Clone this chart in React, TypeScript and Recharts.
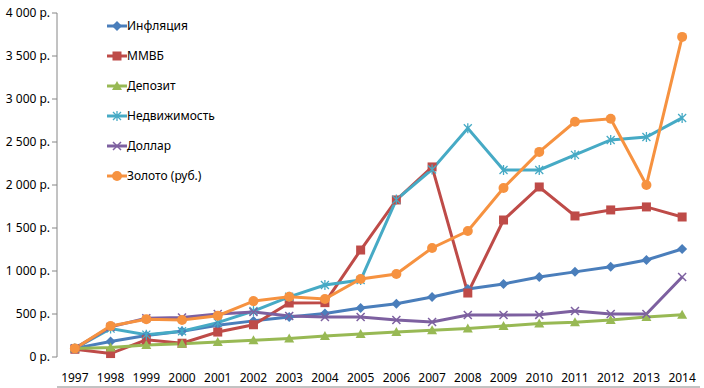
import { LineChart, Line, XAxis, YAxis } from 'recharts'

const years = [1997, 1998, 1999, 2000, 2001, 2002, 2003, 2004, 2005, 2006, 2007, 2008, 2009, 2010, 2011, 2012, 2013, 2014]

const inflation = [100, 180, 250, 300, 370, 420, 465, 505, 570, 620, 698, 790, 850, 930, 990, 1050, 1128, 1256]
const micex = [90, 40, 200, 160, 290, 375, 628, 632, 1244, 1826, 2210, 744, 1593, 1977, 1640, 1710, 1745, 1628]
const deposit = [100, 110, 140, 155, 174, 195, 215, 244, 268, 290, 310, 330, 360, 390, 405, 430, 465, 490]
const realty = [100, 330, 260, 300, 400, 535, 700, 837, 895, 1830, 2180, 2660, 2175, 2175, 2350, 2524, 2558, 2780]
const dollar = [100, 350, 450, 460, 500, 523, 477, 465, 465, 430, 407, 488, 488, 490, 535, 500, 500, 930]
const gold = [100, 360, 440, 430, 480, 650, 700, 675, 907, 965, 1268, 1465, 1965, 2385, 2735, 2770, 2000, 3722]

const yTicks = [0, 500, 1000, 1500, 2000, 2500, 3000, 3500, 4000]
const sepTicks = [1996.5, 1997.5, 1998.5, 1999.5, 2000.5, 2001.5, 2002.5, 2003.5, 2004.5, 2005.5, 2006.5, 2007.5, 2008.5, 2009.5, 2010.5, 2011.5, 2012.5, 2013.5, 2014.5]

const data = years.map((y, i) => ({
  year: y,
  inflation: inflation[i],
  micex: micex[i],
  deposit: deposit[i],
  realty: realty[i],
  dollar: dollar[i],
  gold: gold[i],
}))

const series = [
  { key: 'inflation', name: 'Инфляция', color: '#4A7EBB', marker: 'diamond' },
  { key: 'micex', name: 'ММВБ', color: '#BE4B48', marker: 'square' },
  { key: 'deposit', name: 'Депозит', color: '#98B954', marker: 'triangle' },
  { key: 'realty', name: 'Недвижимость', color: '#46AAC5', marker: 'star' },
  { key: 'dollar', name: 'Доллар', color: '#7D60A0', marker: 'x' },
  { key: 'gold', name: 'Золото (руб.)', color: '#F69240', marker: 'circle' },
]

const fmt = (v: number) => {
  const s = String(v)
  return (s.length > 3 ? s.slice(0, s.length - 3) + ' ' + s.slice(-3) : s) + ' р.'
}

function Marker({ cx, cy, type, color }: { cx: number; cy: number; type: string; color: string }) {
  if (cx == null || cy == null) return null
  switch (type) {
    case 'diamond':
      return <path d={`M${cx},${cy - 5}L${cx + 5},${cy}L${cx},${cy + 5}L${cx - 5},${cy}Z`} fill={color} />
    case 'square':
      return <rect x={cx - 4.5} y={cy - 4.5} width={9} height={9} fill={color} />
    case 'triangle':
      return <path d={`M${cx},${cy - 5}L${cx + 5},${cy + 4}L${cx - 5},${cy + 4}Z`} fill={color} />
    case 'star':
      return (
        <path
          d={`M${cx - 4},${cy - 4}L${cx + 4},${cy + 4}M${cx - 4},${cy + 4}L${cx + 4},${cy - 4}M${cx},${cy - 5}L${cx},${cy + 5}`}
          stroke={color}
          strokeWidth={1.3}
        />
      )
    case 'x':
      return <path d={`M${cx - 4},${cy - 4}L${cx + 4},${cy + 4}M${cx - 4},${cy + 4}L${cx + 4},${cy - 4}`} stroke={color} strokeWidth={1.5} />
    default:
      return <circle cx={cx} cy={cy} r={5} fill={color} />
  }
}

function LegendBox() {
  return (
    <svg width={150} height={170} style={{ position: 'absolute', left: 107, top: 17 }}>
      {series.map((s, i) => {
        const y = 9 + i * 30
        return (
          <g key={s.key}>
            <line x1={0} x2={20} y1={y} y2={y} stroke={s.color} strokeWidth={3} />
            <Marker cx={10} cy={y} type={s.marker} color={s.color} />
            <text x={20} y={y + 4} fontSize={12} fill="#000" fontFamily="Noto Sans, sans-serif">
              {s.name}
            </text>
          </g>
        )
      })}
    </svg>
  )
}

export default function App() {
  return (
    <div style={{ position: 'absolute', left: 0, top: 0, width: 704, height: 388, background: '#fff' }}>
      <LineChart
        width={704}
        height={388}
        data={data}
        margin={{ top: 13, right: 4, bottom: 0, left: 0 }}
        style={{ fontFamily: 'Noto Sans, sans-serif' }}
      >
        <XAxis
          xAxisId="sep"
          dataKey="year"
          type="number"
          domain={[1996.5, 2014.5]}
          ticks={sepTicks}
          tick={false}
          height={1}
          stroke="#868686"
          tickSize={5}
        />
        <XAxis
          dataKey="year"
          type="number"
          domain={[1996.5, 2014.5]}
          ticks={years}
          axisLine={false}
          tickLine={false}
          height={30}
          interval={0}
          tick={{ fontSize: 12, fill: '#000' }}
          tickMargin={10}
        />
        <YAxis
          domain={[0, 4000]}
          ticks={yTicks}
          width={57}
          stroke="#868686"
          tickSize={5}
          tickFormatter={fmt}
          tick={{ fontSize: 12, fill: '#000' }}
        />
        {series.map((s) => (
          <Line
            key={s.key}
            dataKey={s.key}
            name={s.name}
            stroke={s.color}
            strokeWidth={3}
            isAnimationActive={false}
            dot={(p: any) => <Marker key={p.index} cx={p.cx} cy={p.cy} type={s.marker} color={s.color} />}
            activeDot={false}
          />
        ))}
      </LineChart>
      <LegendBox />
    </div>
  )
}
